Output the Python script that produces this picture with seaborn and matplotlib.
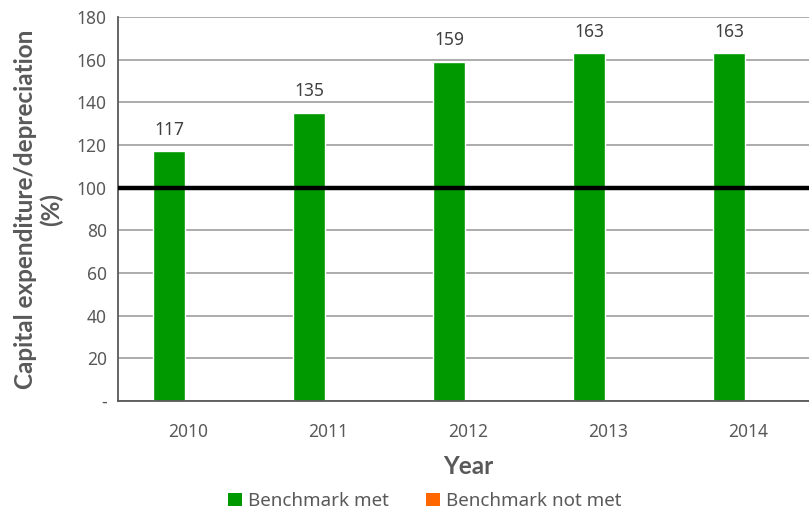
import matplotlib
matplotlib.use("Agg")
import matplotlib.pyplot as plt
import seaborn as sns
import pandas as pd
from matplotlib.patches import Patch

years = ["2010", "2011", "2012", "2013", "2014"]
met = [117, 135, 159, 163, 163]
not_met = [0, 0, 0, 0, 0]
benchmark = 100
y_ticks = [0, 20, 40, 60, 80, 100, 120, 140, 160, 180]
y_tick_labels = ["-", "20", "40", "60", "80", "100", "120", "140", "160", "180"]
series_names = ["Benchmark met", "Benchmark not met"]
series_colors = ["#009900", "#FF6600"]

sns.set_theme(style="white")
plt.rcParams["font.family"] = ["Noto Sans", "DejaVu Sans"]
bold_family = ["Lato", "DejaVu Sans"]

df = pd.DataFrame({
    "Year": years * 2,
    "Value": met + not_met,
    "Series": [series_names[0]] * len(years) + [series_names[1]] * len(years),
})

fig = plt.figure(figsize=(8.09, 5.12), dpi=100)
ax = fig.add_axes([118 / 809, 111 / 512, 700 / 809, 384 / 512])

sns.barplot(data=df, x="Year", y="Value", hue="Series", hue_order=series_names,
            palette=series_colors, width=0.545, gap=0.15, dodge=True,
            saturation=1, legend=False, ax=ax)

ax.set_ylim(0, 180)
ax.set_xlim(-0.5, 4.5)
ax.set_yticks(y_ticks)
ax.set_yticklabels(y_tick_labels)
ax.yaxis.grid(True, color="#a6a6a6", linewidth=1.3)
ax.set_axisbelow(True)
ax.axhline(benchmark, color="black", linewidth=3.2, zorder=5)

text_color = "#595959"
ax.tick_params(axis="both", colors=text_color, labelsize=12.5, length=0)
ax.tick_params(axis="x", pad=16)
ax.tick_params(axis="y", pad=8)
for side in ["top", "right"]:
    ax.spines[side].set_visible(False)
for side in ["left", "bottom"]:
    ax.spines[side].set_color("#595959")
    ax.spines[side].set_linewidth(1.3)

# value labels over the green bars
container = ax.containers[0]
ax.bar_label(container, labels=[str(v) for v in met], padding=9,
             fontsize=12.5, color="#404040")

ax.set_xlabel("Year", fontsize=17.5, fontweight="bold", family=bold_family,
              color=text_color, labelpad=10)
ax.set_ylabel("Capital expenditure/depreciation\n(%)", fontsize=17.5,
              fontweight="bold", family=bold_family, color=text_color,
              linespacing=1.15)
ax.yaxis.set_label_coords(-0.078, 0.5)

handles = [Patch(facecolor=c, edgecolor="none") for c in series_colors]
fig.legend(handles, series_names, loc="center", bbox_to_anchor=(425 / 809, 1 - 501 / 512),
           ncol=2, frameon=False, fontsize=13.5, labelcolor=text_color,
           handlelength=0.7, handleheight=0.7, handletextpad=0.35, columnspacing=2.0)

fig.savefig("out.png", dpi=100)
